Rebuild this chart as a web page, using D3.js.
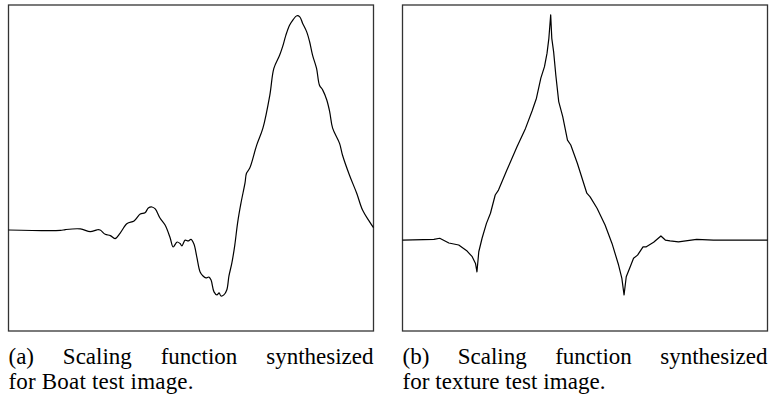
<!DOCTYPE html>
<html>
<head>
<script src="https://cdn.jsdelivr.net/npm/d3@7"></script>
</head>
<body style="margin:0">
<svg id="chart" width="769" height="400"></svg>
<script>
// (a) Boat image scaling function, x in % of support, y relative to peak
const boatX = [0, 14.2, 15.6, 19.7, 22.4, 24.3, 25.1, 26.5, 27.9, 29.2, 30.6, 32.5, 34.4, 36.1, 37.4,
  38.3, 39.3, 40.2, 41.5, 42.9, 44.3, 45.1, 46.2, 47.0, 47.5, 48.4, 49.2, 50.0, 50.8, 51.6,
  52.5, 53.3, 54.1, 54.9, 55.5, 56.3, 57.1, 57.7, 58.2, 59.0, 59.8, 60.4, 61.2, 62.0, 62.8,
  63.7, 64.8, 65.2, 66.1, 68.0, 69.7, 71.6, 72.7, 74.3, 75.1, 76.0, 77.0, 77.9, 79.0, 79.8,
  80.6, 81.7, 82.5, 83.3, 84.4, 85.2, 86.1, 87.2, 88.0, 88.8, 90.7, 91.5, 93.4, 95.4, 97.0,
  98.9, 100];
const boatY = [0, -0.002, 0.002, 0.005, -0.008, 0.001, 0, -0.020, -0.026, -0.040, -0.014, 0.030, 0.042, 0.074, 0.080,
  0.102, 0.107, 0.098, 0.056, 0.023, -0.037, -0.079, -0.056, -0.063, -0.074, -0.047, -0.051, -0.044, -0.065, -0.126,
  -0.195, -0.214, -0.223, -0.219, -0.233, -0.288, -0.302, -0.293, -0.307, -0.302, -0.279, -0.214, -0.153, -0.070, 0.037,
  0.126, 0.219, 0.264, 0.288, 0.395, 0.474, 0.628, 0.752, 0.814, 0.853, 0.907, 0.953, 0.977, 0.997, 0.992,
  0.961, 0.922, 0.876, 0.814, 0.752, 0.674, 0.651, 0.605, 0.550, 0.474, 0.403, 0.349, 0.256, 0.171, 0.093,
  0.039, 0.011];

// (b) texture image scaling function
const textureX = [0, 8.6, 10.2, 12.7, 15.4, 17.7, 19.1, 20.0, 20.4, 20.9, 21.8, 23.0, 24.1, 25.4, 26.3,
  28.6, 31.4, 33.7, 35.5, 36.7, 37.9, 38.9, 39.6, 40.1, 40.6, 40.9, 41.4, 42.0, 42.8, 43.9,
  45.2, 46.1, 47.9, 50.5, 51.4, 53.3, 55.5, 57.4, 59.2, 60.1, 60.7, 61.3, 62.2, 63.3, 64.4,
  65.9, 66.8, 68.8, 70.8, 72.0, 73.3, 75.6, 80.6, 85.2, 100];
const textureY = [0, 0.003, 0.008, -0.013, -0.022, -0.049, -0.074, -0.104, -0.141, -0.052, 0.008, 0.074, 0.119, 0.200, 0.222,
  0.311, 0.415, 0.496, 0.573, 0.630, 0.719, 0.770, 0.830, 0.896, 1.0, 0.896, 0.837, 0.733, 0.615, 0.548,
  0.444, 0.422, 0.341, 0.208, 0.192, 0.141, 0.067, -0.015, -0.111, -0.170, -0.244, -0.163, -0.126, -0.081, -0.067,
  -0.030, -0.030, -0.010, 0.018, 0, -0.004, -0.008, 0.003, 0, 0];

const captionA = ["(a) Scaling function synthesized", "for Boat test image."];
const captionB = ["(b) Scaling function synthesized", "for texture test image."];

class ScalingPlot {

  constructor(_config) {
    this.config = {
      parent: _config.parent,
      left: _config.left,
      right: _config.right,
      top: _config.top || 5,
      bottom: _config.bottom || 331,
      yDomain: _config.yDomain,
      curve: _config.curve || d3.curveLinear,
      lastLineWidth: _config.lastLineWidth
    };
    this.xs = _config.xs;
    this.ys = _config.ys;
    this.caption = _config.caption;
    this.initVis();
  }

  initVis() {
    let vis = this;
    vis.g = vis.config.parent.append("g");

    vis.x = d3.scaleLinear()
        .domain([0, 100])
        .range([vis.config.left, vis.config.right]);
    vis.y = d3.scaleLinear()
        .domain(vis.config.yDomain)
        .range([vis.config.bottom, vis.config.top]);

    vis.line = d3.line()
        .x(d => vis.x(d[0]))
        .y(d => vis.y(d[1]))
        .curve(vis.config.curve);

    vis.render();
  }

  addCaptionText(str, y) {
    let vis = this;
    return vis.g.append("text")
        .attr("y", y)
        .style("font-family", '"Liberation Serif"')
        .style("font-size", "23px")
        .text(str);
  }

  render() {
    let vis = this;
    let points = vis.xs.map((v, i) => [v, vis.ys[i]]);

    vis.g.append("rect")
        .attr("x", vis.config.left)
        .attr("y", vis.config.top)
        .attr("width", vis.config.right - vis.config.left)
        .attr("height", vis.config.bottom - vis.config.top)
        .attr("fill", "none")
        .attr("stroke", "#333")
        .attr("stroke-width", 1.3);

    vis.g.append("path")
        .datum(points)
        .attr("d", vis.line)
        .attr("fill", "none")
        .attr("stroke", "#000")
        .attr("stroke-width", 1.2)
        .attr("stroke-linejoin", "round");

    // first caption line is justified to the box width, like LaTeX does it
    let words = vis.caption[0].split(" ");
    let wordNodes = words.map(w => vis.addCaptionText(w, 364));
    let widths = wordNodes.map(n => n.node().getComputedTextLength());
    let gap = (vis.config.right - vis.config.left - d3.sum(widths)) / (words.length - 1);
    let pos = vis.config.left;
    wordNodes.forEach((n, i) => {
      n.attr("x", pos);
      pos += widths[i] + gap;
    });

    vis.addCaptionText(vis.caption[1], 389)
        .attr("x", vis.config.left)
        .attr("textLength", vis.config.lastLineWidth)
        .attr("lengthAdjust", "spacing");
  }
}

const svg = d3.select("#chart");

new ScalingPlot({
  parent: svg,
  left: 8.5, right: 373.5,
  yDomain: [-0.470, 1.047],
  curve: d3.curveCatmullRom.alpha(0.5),
  lastLineWidth: 185,
  xs: boatX, ys: boatY,
  caption: captionA
});

new ScalingPlot({
  parent: svg,
  left: 402.5, right: 767.5,
  yDomain: [-0.404, 1.044],
  lastLineWidth: 203,
  xs: textureX, ys: textureY,
  caption: captionB
});
</script>
</body>
</html>
